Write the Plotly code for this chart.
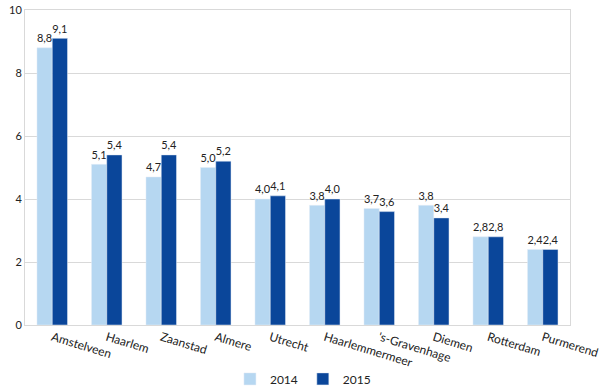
import plotly.graph_objects as go

categories = ["Amstelveen", "Haarlem", "Zaanstad", "Almere", "Utrecht",
              "Haarlemmermeer", "'s-Gravenhage", "Diemen", "Rotterdam", "Purmerend"]
values_2014 = [8.8, 5.1, 4.7, 5.0, 4.0, 3.8, 3.7, 3.8, 2.8, 2.4]
values_2015 = [9.1, 5.4, 5.4, 5.2, 4.1, 4.0, 3.6, 3.4, 2.8, 2.4]
y_ticks = [0, 2, 4, 6, 8, 10]

FONT = "Lato"

fig = go.Figure()
fig.add_trace(go.Bar(x=categories, y=values_2014, name="2014", marker_color="#B6D7F1",
                     texttemplate="%{y:.1f}", textposition="outside", cliponaxis=False,
                     textfont=dict(size=12, color="#222")))
fig.add_trace(go.Bar(x=categories, y=values_2015, name="2015", marker_color="#0A469A",
                     texttemplate="%{y:.1f}", textposition="outside", cliponaxis=False,
                     textfont=dict(size=12, color="#222")))

fig.update_layout(
    width=600, height=391,
    margin=dict(l=25, r=30, t=10, b=66, autoexpand=False),
    barmode="group", bargap=0.44, bargroupgap=0,
    separators=",.",
    plot_bgcolor="white", paper_bgcolor="white",
    font=dict(family=FONT, size=12, color="#222"),
    showlegend=True,
    legend=dict(orientation="h", x=0.51, xanchor="center", y=-0.125, yanchor="top",
                font=dict(size=12), traceorder="normal", itemwidth=30),
)
fig.update_xaxes(showgrid=False, tickangle=17, tickfont=dict(size=12), automargin=False,
                 showline=True, linecolor="#d9d9d9", mirror=True, ticks="")
fig.update_yaxes(range=[0, 10], tickvals=y_ticks, showgrid=True, gridcolor="#d9d9d9",
                 tickfont=dict(size=11), showline=True, linecolor="#d9d9d9", mirror=True,
                 zeroline=False, ticks="", automargin=False)

fig.write_html("out.html", post_script="document.body.style.margin='0';",
               config={"displayModeBar": False})
